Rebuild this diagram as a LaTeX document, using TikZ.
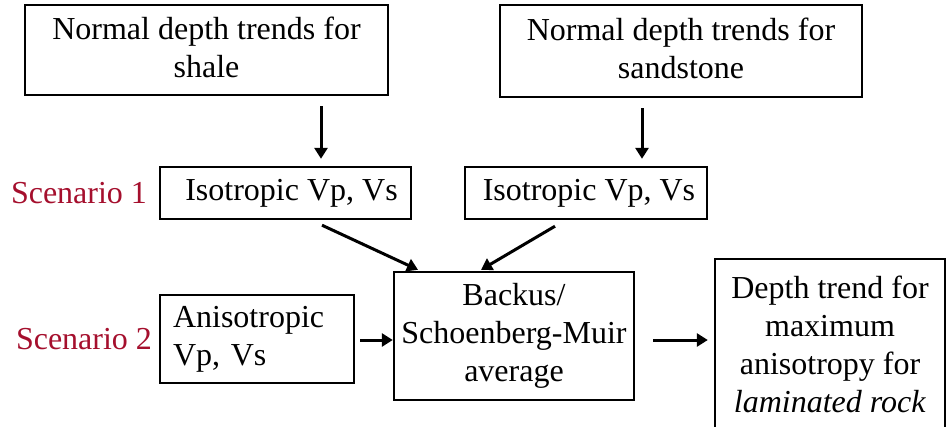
\documentclass[tikz,border=0pt]{standalone}
\usepackage{fontspec}
\setmainfont{Liberation Serif}
\usetikzlibrary{arrows.meta}
\definecolor{scen}{RGB}{165,15,45}
\begin{document}
\begin{tikzpicture}[x=1pt,y=-1pt,
  box/.style={draw,line width=2.4pt,inner sep=0pt,align=center,font=\fontsize{32}{38}\selectfont},
  lbl/.style={inner sep=0pt,text=scen,font=\fontsize{32}{38}\selectfont},
  arr/.style={line width=3pt,-{Triangle[length=11pt,width=13pt]}}]
\clip (0,0) rectangle (947,426);
\fill[white] (0,0) rectangle (947,426);
\node[box,minimum width=363pt,minimum height=90pt,text depth=6pt] (shale) at (206.5,50) {Normal depth trends for\\shale};
\node[box,minimum width=362pt,minimum height=92pt,text depth=6pt] (sand) at (681,51) {Normal depth trends for\\sandstone};
\node[box,minimum width=251pt,minimum height=52pt] (iso1) at (285.5,193) {\hspace*{12pt}Isotropic Vp, Vs};
\node[box,minimum width=242pt,minimum height=52pt] (iso2) at (586,193) {\hspace*{6pt}Isotropic Vp, Vs};
\node[box,minimum width=194pt,minimum height=88pt,align=left,text width=168pt] (aniso) at (257,339) {Anisotropic\\Vp, Vs};
\node[box,minimum width=240pt,minimum height=128pt] (backus) at (514,336) {Backus/\\Schoenberg-Muir\\average};
\node[box,minimum width=230pt,minimum height=170pt] (result) at (830,344) {Depth trend for\\maximum\\anisotropy for\\\textit{laminated rock}};
\node[lbl] (s1) at (79,193) {Scenario 1};
\node[lbl] (s2) at (84,339) {Scenario 2};
\draw[arr] ([xshift=114.5pt,yshift=-10pt]shale.south) -- ([xshift=35.5pt,yshift=7pt]iso1.north);
\draw[arr] ([xshift=-39pt,yshift=-10pt]sand.south) -- ([xshift=56pt,yshift=7pt]iso2.north);
\draw[arr] ([xshift=36.5pt,yshift=-5pt]iso1.south) -- ([xshift=-96pt,yshift=1pt]backus.north);
\draw[arr] ([xshift=-31pt,yshift=-6pt]iso2.south) -- ([xshift=-33pt,yshift=1pt]backus.north);
\coordinate (a1) at ([xshift=5pt,yshift=-1pt]aniso.east);
\draw[arr] (a1) -- (a1 -| backus.west);
\coordinate (b1) at ([xshift=18pt,yshift=-4pt]backus.east);
\draw[arr] (b1) -- ([xshift=-6pt]b1 -| result.west);
\end{tikzpicture}
\end{document}
